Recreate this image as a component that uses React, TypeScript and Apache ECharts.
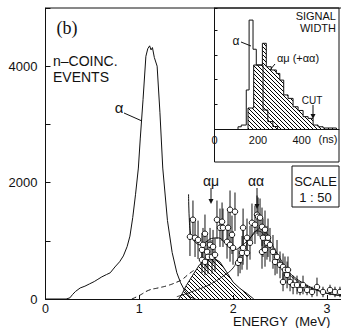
import React, { useEffect, useRef } from 'react';
import * as echarts from 'echarts';

// ---- main panel: energy spectrum (MeV, counts) ----
const alphaEnergy = [0, 0.22, 0.26, 0.29, 0.32, 0.37, 0.42, 0.47, 0.52, 0.55, 0.6, 0.65, 0.69, 0.74, 0.79, 0.83, 0.87, 0.9, 0.93, 0.96, 0.99, 1.01, 1.04, 1.07, 1.09, 1.11, 1.125, 1.14, 1.16, 1.19, 1.22, 1.25, 1.3, 1.35, 1.4, 1.44, 1.48, 1.54, 1.6];
const alphaCounts = [0, 0, 20, 80, 130, 190, 220, 260, 300, 330, 380, 420, 450, 550, 640, 740, 900, 1080, 1400, 1800, 2250, 2750, 3430, 4170, 4300, 4350, 4280, 4320, 4150, 4000, 3200, 2250, 1350, 800, 450, 280, 155, 35, 0];

const dashEnergy = [0.92, 1.0, 1.1, 1.2, 1.3, 1.4, 1.46, 1.52, 1.58];
const dashCounts = [0, 60, 150, 190, 230, 290, 340, 420, 490];

const muEnergy = [1.42, 1.46, 1.5, 1.57, 1.64, 1.72, 1.78, 1.86, 1.93, 2.0, 2.07, 2.15, 2.22];
const muCounts = [0, 100, 230, 410, 585, 705, 720, 635, 465, 290, 185, 90, 0];

const aaEnergy = [1.4, 1.5, 1.6, 1.7, 1.78, 1.9, 2.0, 2.05, 2.1, 2.15, 2.2, 2.25, 2.3, 2.35, 2.4, 2.5, 2.57, 2.65, 2.74, 2.83, 2.92, 3.0, 3.15];
const aaCounts = [40, 90, 150, 210, 276, 400, 534, 690, 810, 950, 1090, 1170, 1150, 1040, 870, 640, 470, 350, 260, 185, 135, 95, 55];

const fitEnergy = [1.525, 1.532, 1.545, 1.56, 1.6, 1.65, 1.71, 1.77, 1.84, 1.9, 1.96, 2.02, 2.08, 2.14, 2.2, 2.26, 2.31, 2.36, 2.42, 2.5, 2.57, 2.65, 2.74, 2.83, 2.92, 3.0, 3.15];
const fitCounts = [1800, 1400, 1130, 1050, 970, 930, 980, 1040, 1050, 990, 890, 850, 900, 980, 1080, 1190, 1220, 1120, 920, 700, 510, 380, 280, 200, 140, 100, 60];

// [energy (MeV), counts (scaled 1:50), error]
const measuredPoints: [number, number, number][] = [
  [1.54, 1069, 330], [1.572, 1362, 330], [1.594, 1052, 330], [1.626, 1017, 330],
  [1.668, 845, 290], [1.668, 672, 230], [1.679, 931, 290], [1.7, 1121, 330],
  [1.7, 638, 230], [1.722, 810, 290], [1.732, 724, 290], [1.754, 931, 290],
  [1.775, 724, 290], [1.786, 897, 290], [1.807, 759, 290], [1.828, 1362, 330],
  [1.86, 1224, 330], [1.882, 1328, 330], [1.892, 1224, 330], [1.935, 983, 290],
  [1.946, 1224, 330], [1.967, 1534, 330], [1.967, 931, 290], [1.988, 1103, 330],
  [1.999, 879, 290], [2.02, 1500, 330], [2.053, 621, 230], [2.074, 672, 230],
  [2.095, 793, 290], [2.106, 1224, 330], [2.106, 879, 290], [2.148, 1052, 330],
  [2.148, 793, 290], [2.18, 966, 290], [2.201, 1310, 330], [2.233, 1276, 330],
  [2.255, 1448, 330], [2.266, 1414, 330], [2.287, 1397, 330], [2.308, 1241, 330],
  [2.308, 810, 290], [2.319, 1052, 330], [2.34, 1190, 330], [2.34, 845, 290],
  [2.361, 966, 290], [2.372, 1052, 330], [2.393, 931, 290], [2.425, 810, 290],
  [2.447, 638, 230], [2.468, 724, 290], [2.5, 586, 230], [2.532, 552, 230],
  [2.532, 293, 160], [2.553, 500, 230], [2.575, 414, 230], [2.585, 500, 230],
  [2.607, 293, 160], [2.639, 241, 160], [2.681, 241, 160], [2.713, 155, 90],
  [2.745, 241, 160], [2.788, 155, 90], [2.841, 121, 90], [2.894, 207, 160],
  [2.958, 121, 90], [3.033, 155, 90], [3.086, 121, 90], [3.139, 121, 90],
];

const energyTicks = [0, 1, 2, 3];
const countTickLabels = [0, 2000, 4000];

// ---- inset: signal width histograms (ns, arbitrary units) ----
const alphaWidthEdges = [108, 123, 146, 159, 177, 192, 223, 245, 268, 290];
const alphaWidthHeights = [0.09, 0.16, 1.58, 4.41, 3.23, 2.59, 0.77, 0.3, 0.1];

const mixWidthEdges = [154, 180, 220, 238, 261, 284, 300, 318, 338, 361, 384, 407, 430, 453, 476, 499, 560];
const mixWidthHeights = [0.85, 2.59, 3.47, 2.52, 2.39, 2.25, 1.98, 1.38, 1.24, 0.9, 0.75, 0.5, 0.43, 0.16, 0.09, 0.04];

const widthTickLabels = [0, 200, 400];

const FONT = '"Liberation Sans", Arial, Helvetica, sans-serif';
const INK = '#111';

function stepPoints(edges: number[], values: number[]) {
  const pts: number[][] = [[edges[0], 0]];
  values.forEach((v, i) => {
    pts.push([edges[i], v]);
    pts.push([edges[i + 1], v]);
  });
  pts.push([edges[edges.length - 1], 0]);
  return pts;
}

function makeHatch(size: number) {
  const c = document.createElement('canvas');
  c.width = size;
  c.height = size;
  const ctx = c.getContext('2d')!;
  ctx.strokeStyle = '#000';
  ctx.lineWidth = 1;
  ctx.beginPath();
  ctx.moveTo(-1, -1);
  ctx.lineTo(size + 1, size + 1);
  ctx.moveTo(size - 1, -1);
  ctx.lineTo(size + 1, 1);
  ctx.moveTo(-1, size - 1);
  ctx.lineTo(1, size + 1);
  ctx.stroke();
  return { image: c, repeat: 'repeat', imageWidth: size, imageHeight: size };
}

function txt(text: string, x: number, y: number, size: number, align = 'center', family = FONT, weight = 'normal') {
  return {
    type: 'text',
    x,
    y,
    silent: true,
    z: 20,
    style: {
      text,
      fill: INK,
      font: `${weight} ${size}px ${family}`,
      textAlign: align,
      textVerticalAlign: 'middle',
    },
  };
}

function seg(x1: number, y1: number, x2: number, y2: number) {
  return {
    type: 'line',
    silent: true,
    z: 20,
    shape: { x1, y1, x2, y2 },
    style: { stroke: INK, lineWidth: 1 },
  };
}

function arrowDown(x: number, y1: number, y2: number) {
  return [
    seg(x, y1, x, y2 - 3),
    {
      type: 'polygon',
      silent: true,
      z: 20,
      shape: { points: [[x - 2.5, y2 - 5], [x + 2.5, y2 - 5], [x, y2]] },
      style: { fill: INK },
    },
  ];
}

export default function App() {
  const ref = useRef<HTMLDivElement>(null);

  useEffect(() => {
    if (!ref.current) return;
    const chart = echarts.init(ref.current, undefined, { renderer: 'svg' });
    const hatch = makeHatch(4);
    const axisLine = { show: true, onZero: false, lineStyle: { color: INK, width: 1 } };

    const option: any = {
      animation: false,
      backgroundColor: '#fff',
      textStyle: { fontFamily: FONT },
      grid: [
        { left: 45.5, top: 8, right: 0, bottom: 29, outerBoundsMode: 'none' },
        { left: 214.5, top: 8, width: 124.5, height: 121, outerBoundsMode: 'none' },
      ],
      xAxis: [
        {
          type: 'value', gridIndex: 0, min: 0, max: 3.15, interval: 1,
          axisLine,
          axisTick: { show: true, inside: true, length: 4, lineStyle: { color: INK } },
          axisLabel: {
            color: INK, fontSize: 12.5, fontFamily: FONT, margin: 3,
            formatter: (v: number) => (energyTicks.includes(v) ? String(v) : ''),
          },
          splitLine: { show: false },
        },
        {
          type: 'value', gridIndex: 1, min: 0, max: 572, interval: 200,
          axisLine,
          axisTick: { show: false },
          axisLabel: {
            color: INK, fontSize: 11, fontFamily: FONT, margin: 5,
            formatter: (v: number) => (widthTickLabels.includes(v) ? String(v) : ''),
          },
          splitLine: { show: false },
        },
      ],
      yAxis: [
        {
          type: 'value', gridIndex: 0, min: 0, max: 5000, interval: 1000,
          axisLine,
          axisTick: { show: true, inside: true, length: 5, lineStyle: { color: INK } },
          axisLabel: {
            color: INK, fontSize: 13, fontFamily: FONT, margin: 8,
            formatter: (v: number) => (countTickLabels.includes(v) ? String(v) : ''),
          },
          splitLine: { show: false },
        },
        {
          type: 'value', gridIndex: 1, min: 0, max: 4.9, interval: 1,
          axisLine,
          axisTick: { show: true, inside: true, length: 3, lineStyle: { color: INK } },
          axisLabel: { show: false },
          splitLine: { show: false },
        },
      ],
      series: [
        {
          name: 'alpha-mu', type: 'line', xAxisIndex: 0, yAxisIndex: 0,
          data: muEnergy.map((e, i) => [e, muCounts[i]]),
          symbol: 'none', smooth: false, silent: true, z: 2,
          lineStyle: { color: INK, width: 1 },
          areaStyle: { color: hatch, opacity: 1 },
          emphasis: { disabled: true },
        },
        {
          name: 'alpha', type: 'line', xAxisIndex: 0, yAxisIndex: 0,
          data: alphaEnergy.map((e, i) => [e, alphaCounts[i]]),
          symbol: 'none', silent: true, z: 3,
          lineStyle: { color: INK, width: 1 },
        },
        {
          name: 'background', type: 'line', xAxisIndex: 0, yAxisIndex: 0,
          data: dashEnergy.map((e, i) => [e, dashCounts[i]]),
          symbol: 'none', smooth: true, silent: true, z: 3,
          lineStyle: { color: INK, width: 1, type: [5, 3] },
        },
        {
          name: 'alpha-alpha', type: 'line', xAxisIndex: 0, yAxisIndex: 0,
          data: aaEnergy.map((e, i) => [e, aaCounts[i]]),
          symbol: 'none', smooth: true, silent: true, z: 3,
          lineStyle: { color: INK, width: 0.9 },
        },
        {
          name: 'fit', type: 'line', xAxisIndex: 0, yAxisIndex: 0,
          data: fitEnergy.map((e, i) => [e, fitCounts[i]]),
          symbol: 'none', smooth: true, silent: true, z: 3,
          lineStyle: { color: INK, width: 1 },
        },
        {
          name: 'errors', type: 'custom', xAxisIndex: 0, yAxisIndex: 0,
          data: measuredPoints.map(([e, c, s]) => [e, Math.max(0, c - s), c + s]),
          encode: { x: 0, y: [1, 2] },
          silent: true, z: 4,
          renderItem: (params: any, api: any) => {
            const lo = api.coord([api.value(0), api.value(1)]);
            const hi = api.coord([api.value(0), api.value(2)]);
            return {
              type: 'line',
              shape: { x1: lo[0], y1: lo[1], x2: hi[0], y2: hi[1] },
              style: { stroke: INK, lineWidth: 1 },
            };
          },
        },
        {
          name: 'data', type: 'scatter', xAxisIndex: 0, yAxisIndex: 0,
          data: measuredPoints.map(([e, c]) => [e, c]),
          symbol: 'circle', symbolSize: 5.5, silent: true, z: 5,
          itemStyle: { color: '#fff', borderColor: INK, borderWidth: 1, opacity: 1 },
        },
        {
          name: 'width-mix', type: 'line', xAxisIndex: 1, yAxisIndex: 1,
          data: stepPoints(mixWidthEdges, mixWidthHeights),
          symbol: 'none', silent: true, z: 2,
          lineStyle: { color: INK, width: 1 },
          areaStyle: { color: hatch, opacity: 1 },
          emphasis: { disabled: true },
        },
        {
          name: 'width-alpha', type: 'line', xAxisIndex: 1, yAxisIndex: 1,
          data: stepPoints(alphaWidthEdges, alphaWidthHeights),
          symbol: 'none', silent: true, z: 3,
          lineStyle: { color: INK, width: 1 },
        },
      ],
      graphic: [
        // frames
        seg(45.5, 8, 341, 8),
        {
          type: 'rect', silent: true, z: 19,
          shape: { x: 214.5, y: 8, width: 124.5, height: 154 },
          style: { fill: 'none', stroke: INK, lineWidth: 1 },
        },
        {
          type: 'rect', silent: true, z: 19,
          shape: { x: 292, y: 166, width: 47, height: 41 },
          style: { fill: '#fff', stroke: INK, lineWidth: 1 },
        },
        // main labels
        txt('(b)', 67, 28, 18, 'center', '"Liberation Serif", "Times New Roman", serif'),
        txt('n–COINC.', 53, 61, 14, 'left'),
        txt('EVENTS', 53, 77, 14, 'left'),
        txt('α', 119, 107, 15),
        seg(124, 113, 142, 121),
        txt('αμ', 211, 181, 14),
        ...arrowDown(211, 188, 204),
        txt('αα', 256, 181, 14),
        ...arrowDown(257, 188, 209),
        txt('SCALE', 315.5, 181, 13),
        txt('1 : 50', 315.5, 197, 13),
        txt('ENERGY  (MeV)', 233, 321.5, 13, 'left'),
        // inset labels
        txt('SIGNAL', 336, 16, 11, 'right'),
        txt('WIDTH', 336, 28, 11, 'right'),
        txt('α', 236, 41, 12),
        seg(241, 42, 251, 46),
        txt('αμ (+αα)', 298, 58, 11),
        seg(275, 64, 270, 70),
        txt('CUT', 312, 100, 10),
        ...arrowDown(313, 105, 119),
        txt('(ns)', 328, 139, 11),
      ],
    };

    chart.setOption(option);
    return () => chart.dispose();
  }, []);

  return (
    <div
      ref={ref}
      style={{ position: 'fixed', left: 0, top: 0, width: 341, height: 328, background: '#fff' }}
    />
  );
}
